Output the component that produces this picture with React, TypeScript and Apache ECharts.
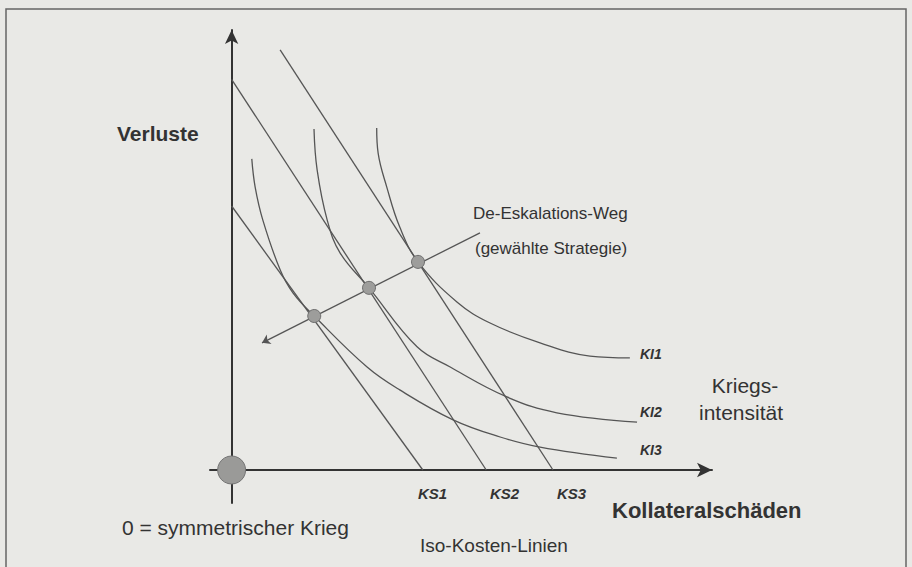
import React, { useEffect, useRef } from "react";
import * as echarts from "echarts";

// Iso-Kosten-Linien (straight lines): [Kollateralschäden, Verluste]
const ksNames = ["KS1", "KS2", "KS3"];
const KS1: number[][] = [[0, 6.0], [3.98, 0]];
const KS2: number[][] = [[0, 8.88], [5.3, 0]];
const KS3: number[][] = [[1.01, 9.55], [6.69, 0]];

// Kriegsintensität curves
const kiNames = ["KI1", "KI2", "KI3"];
const KI1: number[][] = [
  [3.02, 7.77], [3.05, 7.2], [3.23, 6.43], [3.5, 5.52], [3.88, 4.73],
  [4.69, 3.82], [5.38, 3.34], [6.42, 2.89], [7.46, 2.59], [8.29, 2.55],
];
const KI2: number[][] = [
  [1.715, 7.75], [1.78, 6.82], [1.99, 5.68], [2.26, 4.93], [2.86, 4.14],
  [3.86, 2.8], [4.55, 2.34], [5.73, 1.66], [6.77, 1.3], [8.44, 1.09],
];
const KI3: number[][] = [
  [0.42, 7.07], [0.49, 6.43], [0.65, 5.68], [1.01, 4.55], [1.28, 4.02],
  [1.72, 3.5], [2.82, 2.34], [3.5, 1.82], [4.61, 1.14], [5.59, 0.75],
  [6.42, 0.52], [8.02, 0.27],
];

// Tangent points on the De-Eskalations-Weg
const tangentPoints: number[][] = [[1.72, 3.5], [2.86, 4.14], [3.88, 4.73]];
const origin: number[][] = [[0, 0]];
const pathStart = [5.17, 5.39];
const pathEnd = [0.633, 2.89];

const LINE = "#555555";
const TEXT = "#333333";
const FONT = "'Liberation Sans', Arial, sans-serif";

export default function App() {
  const ref = useRef<HTMLDivElement>(null);
  useEffect(() => {
    if (!ref.current) return;
    const chart = echarts.init(ref.current, null, { renderer: "svg" });
    const lineSeries = (data: number[][], smooth: boolean | number) => ({
      type: "line",
      data,
      smooth,
      symbol: "none",
      silent: true,
      lineStyle: { color: LINE, width: 1.3 },
      z: 2,
    });
    const txt = (
      text: string, x: number, y: number, size: number,
      weight = "normal", style = "normal", align = "left"
    ) => ({
      type: "text",
      x, y,
      silent: true,
      z: 10,
      style: {
        text,
        fill: TEXT,
        font: `${style} ${weight} ${size}px ${FONT}`,
        textAlign: align,
        textVerticalAlign: "middle",
        align,
        verticalAlign: "middle",
      },
    });
    chart.setOption({
      animation: false,
      backgroundColor: "#e9e9e6",
      grid: { left: 210, right: 200, top: 30, bottom: 64 },
      xAxis: {
        type: "value",
        min: -0.45,
        max: 10,
        splitLine: { show: false },
        axisTick: { show: false },
        axisLabel: { show: false },
        axisLine: {
          show: true,
          onZero: true,
          symbol: ["none", "arrow"],
          symbolSize: [11, 15],
          lineStyle: { color: "#333", width: 2 },
        },
      },
      yAxis: {
        type: "value",
        min: -0.75,
        max: 10,
        splitLine: { show: false },
        axisTick: { show: false },
        axisLabel: { show: false },
        axisLine: {
          show: true,
          onZero: true,
          symbol: ["none", "arrow"],
          symbolSize: [10, 14],
          lineStyle: { color: "#333", width: 2 },
        },
      },
      series: [
        { name: ksNames[0], ...lineSeries(KS1, false) },
        { name: ksNames[1], ...lineSeries(KS2, false) },
        { name: ksNames[2], ...lineSeries(KS3, false) },
        { name: kiNames[0], ...lineSeries(KI1, 0.4) },
        { name: kiNames[1], ...lineSeries(KI2, 0.4) },
        { name: kiNames[2], ...lineSeries(KI3, 0.4) },
        {
          type: "line",
          data: [],
          silent: true,
          markLine: {
            silent: true,
            symbol: ["none", "arrow"],
            symbolSize: 8,
            label: { show: false },
            lineStyle: { color: LINE, width: 1.3, type: "solid" },
            data: [[{ coord: pathStart }, { coord: pathEnd }]],
          },
        },
        {
          type: "scatter",
          data: tangentPoints,
          symbolSize: 13,
          silent: true,
          z: 5,
          itemStyle: { color: "#9d9d9b", borderColor: "#6e6e6e", borderWidth: 1, opacity: 1 },
        },
        {
          type: "scatter",
          data: origin,
          symbolSize: 28,
          silent: true,
          z: 5,
          itemStyle: { color: "#9a9a98", borderColor: "#747474", borderWidth: 1, opacity: 1 },
        },
      ],
      graphic: [
        {
          type: "rect",
          silent: true,
          z: 0,
          shape: { x: 6, y: 9, width: 900, height: 600 },
          style: { fill: "none", stroke: "#666", lineWidth: 1.5 },
        },
        txt("Verluste", 117, 133, 21, "bold"),
        txt("De-Eskalations-Weg", 473, 213, 17),
        txt("(gewählte Strategie)", 475, 248, 17),
        txt("KI1", 640, 354, 14, "bold", "italic"),
        txt("KI2", 640, 412, 14, "bold", "italic"),
        txt("KI3", 640, 450, 14, "bold", "italic"),
        txt("Kriegs-", 745, 385, 21, "normal", "normal", "center"),
        txt("intensität", 741, 412, 21, "normal", "normal", "center"),
        txt("KS1", 418, 493, 15, "bold", "italic"),
        txt("KS2", 490, 493, 15, "bold", "italic"),
        txt("KS3", 557, 493, 15, "bold", "italic"),
        txt("Kollateralschäden", 612, 510, 22, "bold"),
        txt("0 = symmetrischer Krieg", 122, 527, 21),
        txt("Iso-Kosten-Linien", 420, 545, 19),
      ],
    });
    return () => chart.dispose();
  }, []);
  return (
    <div
      ref={ref}
      style={{ position: "absolute", left: 0, top: 0, width: 912, height: 567 }}
    />
  );
}
